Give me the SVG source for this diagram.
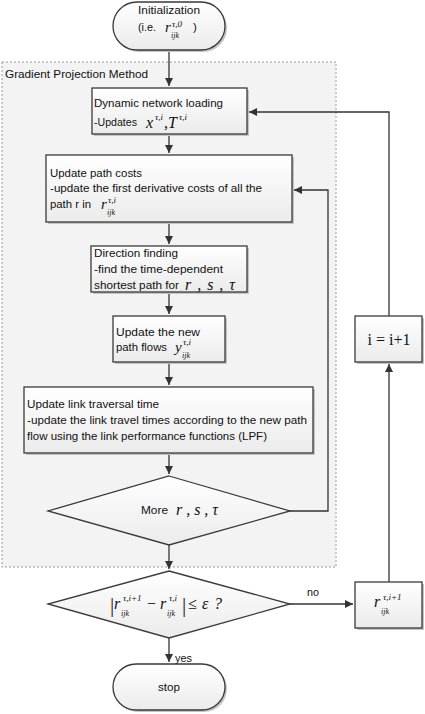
<svg xmlns="http://www.w3.org/2000/svg" width="425" height="714" viewBox="0 0 425 714">
<style>
.box{fill:url(#g);stroke:#3a3a3a;stroke-width:1.3}
.sh{fill:#c4c4c4}
.t{font-family:"Liberation Sans",Arial,sans-serif;font-size:11.5px;fill:#111}
.m{font-family:"Liberation Serif","Times New Roman",serif;font-style:italic;fill:#111}
.c{fill:none;stroke:#333;stroke-width:1.3}
</style>
<defs>
<linearGradient id="g" x1="0" y1="0" x2="0" y2="1">
<stop offset="0" stop-color="#ffffff"/>
<stop offset="1" stop-color="#ebebeb"/>
</linearGradient>
<marker id="a" markerWidth="10" markerHeight="10" refX="8" refY="4" orient="auto" markerUnits="userSpaceOnUse">
<path d="M0,0 L8,4 L0,8 Z" fill="#333"/>
</marker>
</defs>
<rect width="425" height="714" fill="#fff"/>
<g id="gpm">
<rect x="2" y="62" width="334" height="505" fill="#f3f3f3" stroke="#999" stroke-width="1" stroke-dasharray="2,2"/>
<text class="t" x="5" y="78" textLength="143" lengthAdjust="spacingAndGlyphs">Gradient Projection Method</text>
</g>
<g id="connectors">
<path class="c" d="M169,50 V86" marker-end="url(#a)"/>
<path class="c" d="M169,134 V153" marker-end="url(#a)"/>
<path class="c" d="M169,222 V244" marker-end="url(#a)"/>
<path class="c" d="M169,292 V314" marker-end="url(#a)"/>
<path class="c" d="M169,362 V385" marker-end="url(#a)"/>
<path class="c" d="M169,453 V474" marker-end="url(#a)"/>
<path class="c" d="M290,511 H328 V190 H294" marker-end="url(#a)"/>
<path class="c" d="M169,545 V569" marker-end="url(#a)"/>
<path class="c" d="M290,604 H353" marker-end="url(#a)"/>
<path class="c" d="M169,638 V662" marker-end="url(#a)"/>
<path class="c" d="M389,582 V364" marker-end="url(#a)"/>
<path class="c" d="M389,316 V112 H249" marker-end="url(#a)"/>
<text class="t" x="307" y="596" textLength="12" lengthAdjust="spacingAndGlyphs">no</text>
<text class="t" x="175" y="662" textLength="17" lengthAdjust="spacingAndGlyphs">yes</text>
</g>
<g id="init">
<rect class="sh" x="115" y="4" width="112" height="48" rx="24"/>
<rect class="box" x="113" y="2" width="112" height="48" rx="24"/>
<text class="t" x="138" y="14" textLength="62" lengthAdjust="spacingAndGlyphs">Initialization</text>
<text class="t" x="138" y="31" textLength="18" lengthAdjust="spacingAndGlyphs">(i.e.</text>
<text class="m" x="165" y="32" font-size="15">r</text>
<text class="m" x="172" y="27" font-size="9">τ,0</text>
<text class="m" x="171" y="38" font-size="8">ijk</text>
<text class="t" x="193" y="31">)</text>
</g>
<g id="dnl">
<rect class="sh" x="94" y="90" width="155" height="46"/>
<rect class="box" x="92" y="88" width="155" height="46"/>
<text class="t" x="94" y="107" textLength="129" lengthAdjust="spacingAndGlyphs">Dynamic network loading</text>
<text class="t" x="94" y="126" textLength="43" lengthAdjust="spacingAndGlyphs">-Updates</text>
<text class="m" x="146" y="128" font-size="16">x</text>
<text class="m" x="155" y="120" font-size="9">τ,i</text>
<text class="m" x="164" y="128" font-size="16">,T</text>
<text class="m" x="179" y="120" font-size="9">τ,i</text>
</g>
<g id="upc">
<rect class="sh" x="48" y="157" width="246" height="67"/>
<rect class="box" x="46" y="155" width="246" height="67"/>
<text class="t" x="50" y="177" textLength="92" lengthAdjust="spacingAndGlyphs">Update path costs</text>
<text class="t" x="50" y="192" textLength="212" lengthAdjust="spacingAndGlyphs">-update the first derivative costs of all the</text>
<text class="t" x="50" y="208" textLength="41" lengthAdjust="spacingAndGlyphs">path r in</text>
<text class="m" x="101" y="209" font-size="15">r</text>
<text class="m" x="108" y="203" font-size="9">τ,i</text>
<text class="m" x="107" y="215" font-size="8">ijk</text>
</g>
<g id="dir">
<rect class="sh" x="93" y="248" width="156" height="46"/>
<rect class="box" x="91" y="246" width="156" height="46"/>
<text class="t" x="94" y="257" textLength="84" lengthAdjust="spacingAndGlyphs">Direction finding</text>
<text class="t" x="94" y="273" textLength="129" lengthAdjust="spacingAndGlyphs">-find the time-dependent</text>
<text class="t" x="94" y="289" textLength="85" lengthAdjust="spacingAndGlyphs">shortest path for</text>
<text class="m" x="185" y="290" font-size="16" textLength="50">r , s , τ</text>
</g>
<g id="flows">
<rect class="sh" x="115" y="318" width="112" height="46"/>
<rect class="box" x="113" y="316" width="112" height="46"/>
<text class="t" x="116" y="336" textLength="84" lengthAdjust="spacingAndGlyphs">Update the new</text>
<text class="t" x="116" y="351" textLength="51" lengthAdjust="spacingAndGlyphs">path flows</text>
<text class="m" x="175" y="352" font-size="15">y</text>
<text class="m" x="183" y="345" font-size="9">τ,i</text>
<text class="m" x="182" y="358" font-size="8">ijk</text>
</g>
<g id="inc">
<rect class="sh" x="357" y="318" width="67" height="46"/>
<rect class="box" x="355" y="316" width="67" height="46"/>
<text x="389" y="345" text-anchor="middle" font-family="Liberation Serif,serif" font-size="16" fill="#111">i = i+1</text>
</g>
<g id="ltt">
<rect class="sh" x="26" y="389" width="289" height="66"/>
<rect class="box" x="24" y="387" width="289" height="66"/>
<text class="t" x="27" y="408" textLength="132" lengthAdjust="spacingAndGlyphs">Update link traversal time</text>
<text class="t" x="27" y="424" textLength="280" lengthAdjust="spacingAndGlyphs">-update the link travel times according to the new path</text>
<text class="t" x="27" y="440" textLength="240" lengthAdjust="spacingAndGlyphs">flow using the link performance functions (LPF)</text>
</g>
<g id="more">
<polygon points="169,476 290,511 169,545 48,511" fill="url(#g)" stroke="#3a3a3a" stroke-width="1.3"/>
<text class="t" x="141" y="514" textLength="27" lengthAdjust="spacingAndGlyphs">More</text>
<text class="m" x="176" y="515" font-size="16" textLength="42">r , s , τ</text>
</g>
<g id="conv">
<polygon points="169,571 290,604 169,638 48,604" fill="url(#g)" stroke="#3a3a3a" stroke-width="1.3"/>
<text class="m" x="109" y="612" font-size="20" font-style="normal">|</text>
<text class="m" x="114" y="609" font-size="16">r</text>
<text class="m" x="123" y="601" font-size="9">τ,i+1</text>
<text class="m" x="121" y="616" font-size="8">ijk</text>
<text class="m" x="146" y="609" font-size="16" font-style="normal">−</text>
<text class="m" x="160" y="609" font-size="16">r</text>
<text class="m" x="169" y="601" font-size="9">τ,i</text>
<text class="m" x="167" y="616" font-size="8">ijk</text>
<text class="m" x="181" y="612" font-size="20" font-style="normal">|</text>
<text class="m" x="188" y="609" font-size="16" font-style="normal">≤</text>
<text class="m" x="202" y="609" font-size="16">ε</text>
<text class="m" x="214" y="609" font-size="16" font-style="normal">?</text>
</g>
<g id="rnext">
<rect class="sh" x="357" y="584" width="67" height="46"/>
<rect class="box" x="355" y="582" width="67" height="46"/>
<text class="m" x="374" y="607" font-size="16">r</text>
<text class="m" x="383" y="600" font-size="9">τ,i+1</text>
<text class="m" x="381" y="614" font-size="8">ijk</text>
</g>
<g id="stop">
<rect class="sh" x="115" y="666" width="112" height="46" rx="23"/>
<rect class="box" x="113" y="664" width="112" height="46" rx="23"/>
<text class="t" x="158" y="691" textLength="22" lengthAdjust="spacingAndGlyphs">stop</text>
</g>
</svg>
